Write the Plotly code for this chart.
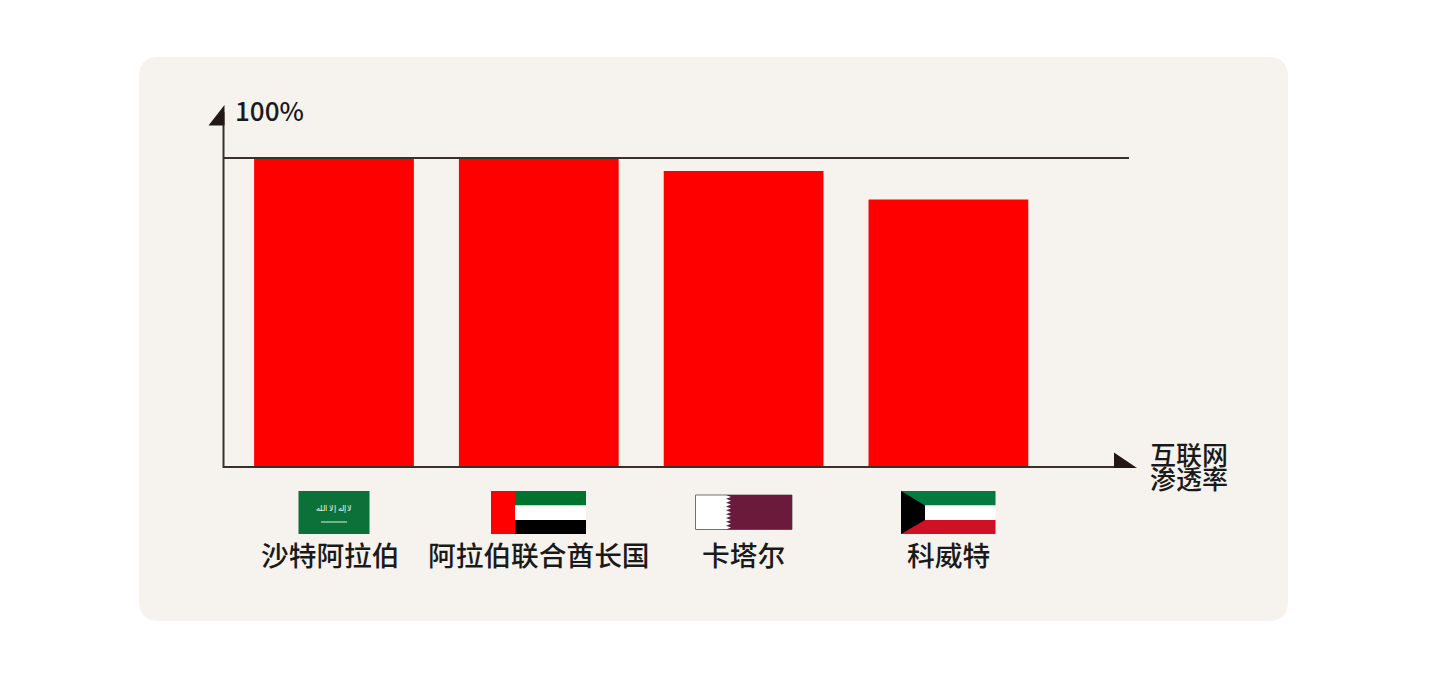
import plotly.graph_objects as go

countries = ['沙特阿拉伯', '阿拉伯联合酋长国', '卡塔尔', '科威特']
penetration = [100, 100, 95.8, 86.6]
y_top_label = '100%'
x_title = ['互联网', '渗透率']

# the page body has an 8px margin, figure is drawn inside it
PAGE = 8
W, H = 1439 - 2 * PAGE, 686 - 2 * PAGE
LEFT, RIGHT, TOP, BOTTOM = 224, 1115, 158, 467
STEP = 204.8
FIRST = 334
FONT = 'Noto Sans CJK SC'
LINE = '#3a302a'
DARK = '#231815'
TEXT = '#1a1a1a'


def xpx(p):
    return (p - LEFT) / (RIGHT - LEFT)


def ypx(p):
    return (BOTTOM - p) / (BOTTOM - TOP)


def rect(x0, y0, x1, y1, color, line=None):
    return dict(type='rect', xref='paper', yref='paper', x0=xpx(x0), x1=xpx(x1), y0=ypx(y0), y1=ypx(y1),
                fillcolor=color, line=dict(width=1 if line else 0, color=line or color), layer='above')


def poly(points, color, layer='above'):
    path = 'M' + ' L'.join('%.5f,%.5f' % (xpx(a), ypx(b)) for a, b in points) + ' Z'
    return dict(type='path', xref='paper', yref='paper', path=path, fillcolor=color, line=dict(width=0), layer=layer)


def hline(x0, x1, y, width=2):
    return dict(type='line', xref='paper', yref='paper', x0=xpx(x0), x1=xpx(x1), y0=ypx(y), y1=ypx(y),
                line=dict(color=LINE, width=width), layer='above')


def card(x0, y0, x1, y1, r, color):
    path = ('M%f,%f L%f,%f Q%f,%f %f,%f L%f,%f Q%f,%f %f,%f L%f,%f Q%f,%f %f,%f L%f,%f Q%f,%f %f,%f Z' % (
        xpx(x0 + r), ypx(y0), xpx(x1 - r), ypx(y0), xpx(x1), ypx(y0), xpx(x1), ypx(y0 + r),
        xpx(x1), ypx(y1 - r), xpx(x1), ypx(y1), xpx(x1 - r), ypx(y1),
        xpx(x0 + r), ypx(y1), xpx(x0), ypx(y1), xpx(x0), ypx(y1 - r),
        xpx(x0), ypx(y0 + r), xpx(x0), ypx(y0), xpx(x0 + r), ypx(y0)))
    return dict(type='path', xref='paper', yref='paper', path=path, fillcolor=color, line=dict(width=0), layer='below')


shapes = [card(139, 57, 1288, 621, 20, '#f6f3ee')]

# axes
shapes.append(hline(224, 1129, TOP))
shapes.append(hline(224, 1116, BOTTOM))
shapes.append(dict(type='line', xref='paper', yref='paper', x0=xpx(223.5), x1=xpx(223.5), y0=ypx(BOTTOM + 1), y1=ypx(112),
                   line=dict(color=LINE, width=2), layer='above'))
shapes.append(poly([(224.5, 105), (224.5, 125.5), (208.5, 125.5)], DARK))
shapes.append(poly([(1114, 452.5), (1137, 468), (1114, 468)], DARK))

# saudi
shapes.append(rect(298.5, 491, 369.5, 534, '#0b7138'))
shapes.append(hline(321, 347, 522, 1))
shapes[-1]['line']['color'] = '#dfeee4'

# uae
shapes.append(rect(491, 491, 515, 534, '#ff0000'))
shapes.append(rect(515, 491, 586, 505.5, '#00732f'))
shapes.append(rect(515, 505.5, 586, 520, '#ffffff'))
shapes.append(rect(515, 520, 586, 534, '#000000'))

# qatar
shapes.append(rect(695.5, 495, 792, 529.5, '#ffffff', '#77706c'))
teeth = [(792, 495), (726, 495)]
for i in range(9):
    top = 495 + i * 34.5 / 9
    teeth.append((731, top + 34.5 / 18))
    teeth.append((726, top + 34.5 / 9))
teeth.append((792, 529.5))
shapes.append(poly(teeth, '#6b1a3c'))

# kuwait
shapes.append(rect(901, 491, 995.5, 505.5, '#047a3f'))
shapes.append(rect(901, 505.5, 995.5, 520, '#ffffff'))
shapes.append(rect(901, 520, 995.5, 534, '#ce1126'))
shapes.append(poly([(901, 491), (925, 505.5), (925, 520), (901, 534)], '#000000'))


def label(text, x, y, size=26, color=TEXT, anchor='center', weight=500):
    return dict(text=text, xref='paper', yref='paper', x=xpx(x), y=ypx(y), xanchor=anchor, yanchor='middle',
                showarrow=False, font=dict(family=FONT, size=size, color=color, weight=weight))


annotations = [
    label(y_top_label, 233, 109, size=26, anchor='left'),
    label(x_title[0], 1188.5, 453),
    label(x_title[1], 1188.5, 477.5),
    label('لا إله إلا الله', 334, 507, size=8, color='#e8f3ec', weight=400),
]

# category names sit under the flags, first one is a bit left of its bar
name_shift = [-4, 0, 0, 0]
for name, shift in zip(countries, name_shift):
    annotations.append(dict(text=name, xref='x', yref='paper', x=name, y=ypx(553.5), xshift=shift,
                            xanchor='center', yanchor='middle', showarrow=False,
                            font=dict(family=FONT, size=27.7, color=TEXT, weight=500)))

fig = go.Figure(go.Bar(
    x=countries,
    y=penetration,
    marker=dict(color='#ff0000', line=dict(width=0)),
    hoverinfo='x+y',
))
fig.update_layout(
    width=W,
    height=H,
    margin=dict(l=LEFT - PAGE, r=W - (RIGHT - PAGE), t=TOP - PAGE, b=H - (BOTTOM - PAGE), pad=0),
    paper_bgcolor='#ffffff',
    plot_bgcolor='rgba(0,0,0,0)',
    bargap=0.22,
    showlegend=False,
    shapes=shapes,
    annotations=annotations,
    font=dict(family=FONT),
)
fig.update_xaxes(
    type='category',
    range=[(LEFT - FIRST) / STEP, (RIGHT - FIRST) / STEP],
    showgrid=False,
    showline=False,
    zeroline=False,
    ticks='',
    showticklabels=False,
)
fig.update_yaxes(range=[0, 100], showgrid=False, showline=False, zeroline=False, showticklabels=False, ticks='')

fig.write_html("out.html")
